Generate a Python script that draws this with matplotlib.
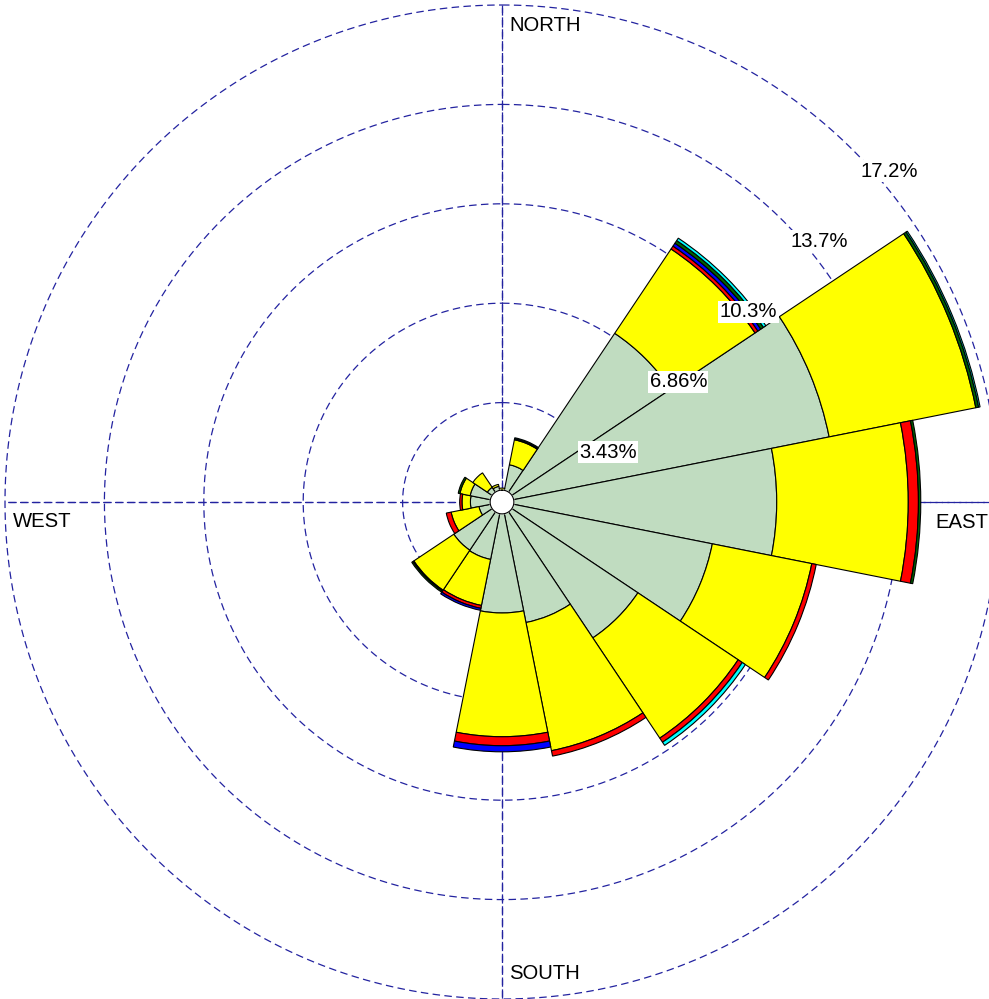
import matplotlib.pyplot as plt
import numpy as np

plt.rcParams['font.family'] = ['Liberation Sans', 'DejaVu Sans']

# 16 compass sectors, clockwise from north
directions = ['N', 'NNE', 'NE', 'ENE', 'E', 'ESE', 'SE', 'SSE',
              'S', 'SSW', 'SW', 'WSW', 'W', 'WNW', 'NW', 'NNW']
# frequency (%) of each speed class per sector, stacked from the centre outwards
cls1 = [0.38, 1.31, 7.00, 11.51, 9.48, 7.40, 5.64, 4.24, 3.83, 2.02, 2.00, 0.81, 1.09, 1.12, 0.61, 0.55]
cls2 = [0.10, 0.88, 3.50, 5.16, 4.54, 3.50, 4.16, 4.51, 4.27, 1.62, 1.66, 0.98, 0.29, 0.36, 0.60, 0.07]
cls3 = [0.0, 0.0, 0.12, 0.0, 0.35, 0.155, 0.17, 0.19, 0.31, 0.10, 0.035, 0.17, 0.08, 0.0, 0.0, 0.0]
cls4 = [0.0, 0.0, 0.12, 0.0, 0.0, 0.0, 0.0, 0.0, 0.21, 0.07, 0.0, 0.0, 0.0, 0.0, 0.0, 0.0]
cls5 = [0.0, 0.03, 0.11, 0.10, 0.08, 0.0, 0.0, 0.0, 0.0, 0.0, 0.05, 0.0, 0.0, 0.06, 0.0, 0.0]
cls6 = [0.0, 0.04, 0.10, 0.05, 0.0, 0.0, 0.13, 0.0, 0.0, 0.0, 0.0, 0.0, 0.0, 0.0, 0.0, 0.0]
class_colors = ['#C0DCC0', '#FFFF00', '#FF0000', '#0000FF', '#006400', '#00FFFF']

ring_step = 3.43
ring_labels = ['3.43%', '6.86%', '10.3%', '13.7%', '17.2%']
compass = [('NORTH', 0.0), ('EAST', 90.0), ('SOUTH', 180.0), ('WEST', 270.0)]

fig = plt.figure(figsize=(9.89, 9.99), dpi=100)
ax = fig.add_axes([5/989, 0/999, 994/989, 994/999], projection='polar')
ax.set_theta_zero_location('N')
ax.set_theta_direction(-1)
rmax = ring_step * len(ring_labels)
ax.set_ylim(0, rmax)
ax.set_axis_off()

grid_col = '#2323a0'
th = np.linspace(0, 2*np.pi, 400)
for i in range(1, len(ring_labels)+1):
    ax.plot(th, np.full_like(th, i*ring_step), color=grid_col, lw=0.9,
            ls=(0, (6, 3.5)), zorder=1, clip_on=False)
for ang in [0, 90]:
    a = np.deg2rad(ang)
    ax.plot([a, a+np.pi], [rmax, rmax], color=grid_col, lw=0.9,
            ls=(0, (6, 3.5)), zorder=1, clip_on=False)
    ax.plot([a, a], [0, rmax], color=grid_col, lw=0.9, ls=(0, (6, 3.5)), zorder=1, clip_on=False)
    ax.plot([a+np.pi, a+np.pi], [0, rmax], color=grid_col, lw=0.9, ls=(0, (6, 3.5)), zorder=1, clip_on=False)

theta = np.deg2rad(np.arange(len(directions)) * 22.5)
width = 2*np.pi/len(directions)
bottom = np.zeros(len(directions))
for vals, col in zip([cls1, cls2, cls3, cls4, cls5, cls6], class_colors):
    vals = np.array(vals)
    m = vals > 0
    ax.bar(theta[m], vals[m], width=width, bottom=bottom[m], color=col,
           edgecolor='black', linewidth=0.8, align='center', zorder=2)
    bottom += vals

# white hole in the middle
hole = 0.41
ax.fill(th, np.full_like(th, hole), color='white', zorder=3)
ax.plot(th, np.full_like(th, hole), color='black', lw=0.8, zorder=3)

fs = 14.6
for i, lab in enumerate(ring_labels):
    ax.annotate(lab, xy=(np.deg2rad(45), (i+1)*ring_step), xytext=(7, -26),
                textcoords='offset pixels', ha='left', va='baseline', fontsize=fs,
                zorder=5, bbox=dict(facecolor='white', edgecolor='none', pad=1))

offs = {'NORTH': ((7, -26), 'left'), 'EAST': ((-11, -26), 'right'),
        'SOUTH': ((7, 20), 'left'), 'WEST': ((8, -25), 'left')}
for lab, ang in compass:
    (dx, dy), ha = offs[lab]
    ax.annotate(lab, xy=(np.deg2rad(ang), rmax), xytext=(dx, dy),
                textcoords='offset pixels', ha=ha, va='baseline', fontsize=fs,
                zorder=5, annotation_clip=False)

fig.savefig('out.png', dpi=100)
